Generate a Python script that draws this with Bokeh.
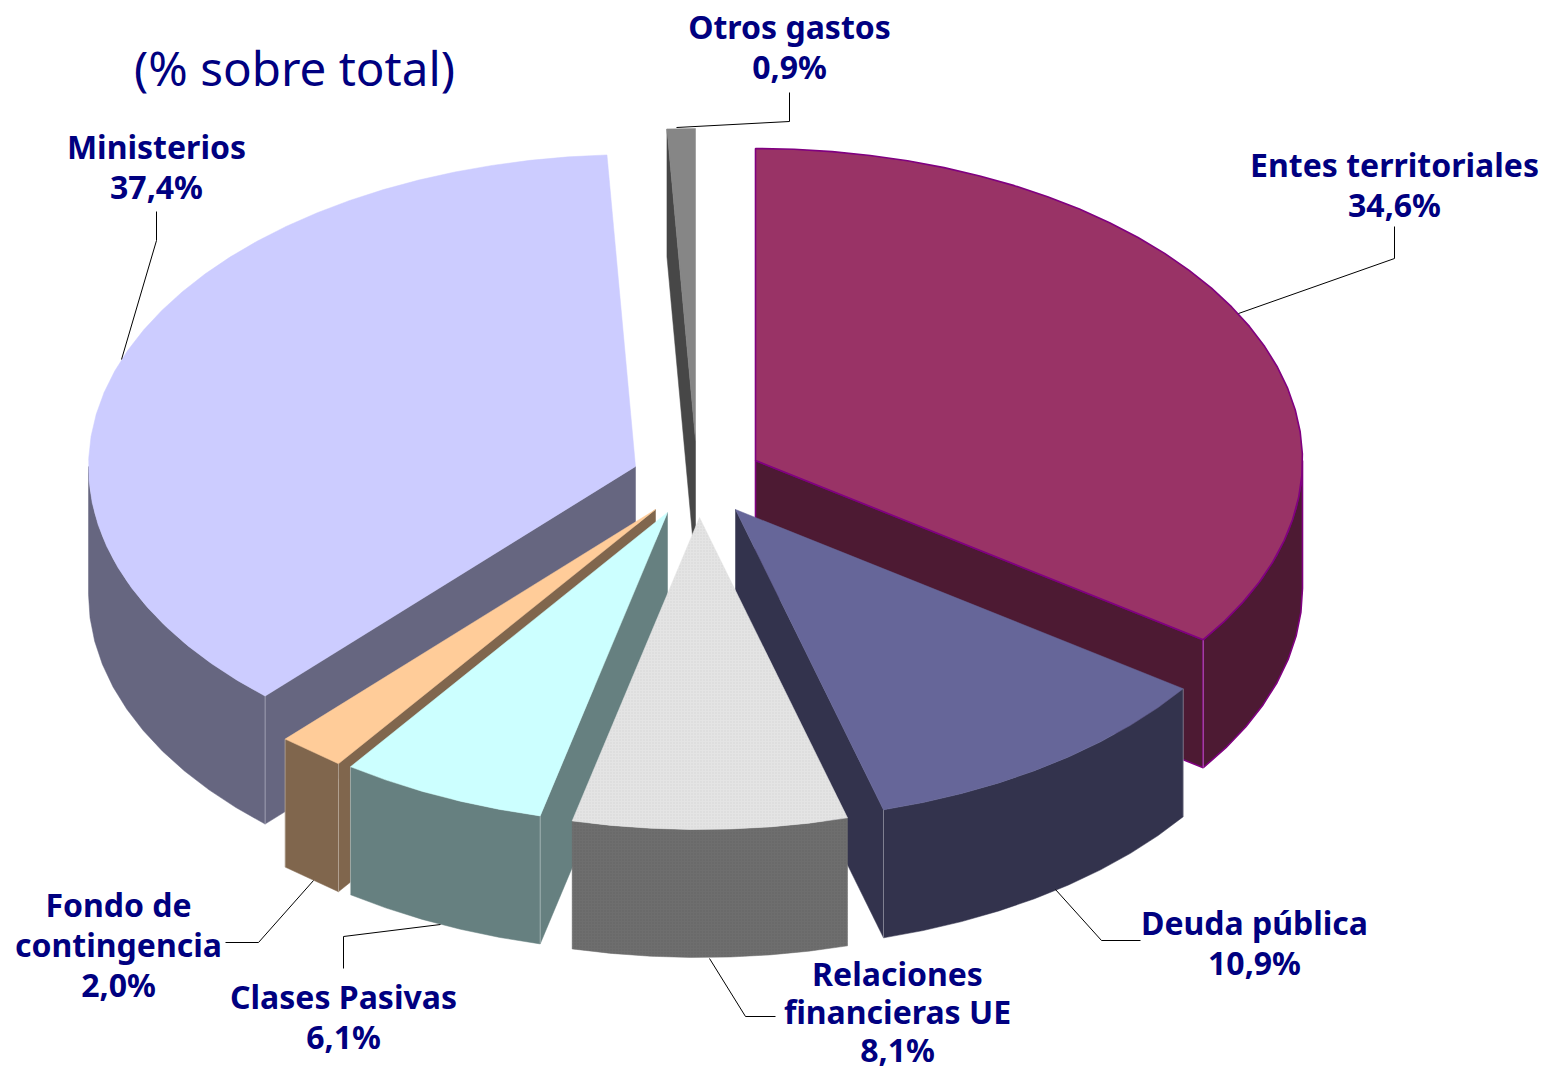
import math
from bokeh.plotting import figure
from bokeh.models import ColumnDataSource
from bokeh.core.properties import value
from bokeh.embed import file_html
from bokeh.resources import INLINE

# ---- data ----
categories = ["Entes territoriales", "Deuda pública", "Relaciones financieras UE",
              "Clases Pasivas", "Fondo de contingencia", "Ministerios", "Otros gastos"]
shares = [34.6, 10.9, 8.1, 6.1, 2.0, 37.4, 0.9]
label_lines = [["Entes territoriales"], ["Deuda pública"], ["Relaciones", "financieras UE"],
               ["Clases Pasivas"], ["Fondo de", "contingencia"], ["Ministerios"], ["Otros gastos"]]
title_text = "(% sobre total)"

# ---- layout / style ----
W, H = 1549, 1071
RX, RY, DEPTH = 547, 312, 128
ANGLE_NUDGE = [0, 0.5, 0.5, 0.5, 0.5, 0.5, 0.25, 0]
apex = [(755, 460), (735, 509), (699, 517), (667, 512), (655, 509), (635, 466), (695, 440)]
top_col = ["#993366", "#666699", "#e4e4e4", "#ccffff", "#ffcc99", "#ccccff", "#868686"]
side_col = ["#4d1a33", "#33334d", "#6e6e6e", "#668080", "#80664d", "#666680", "#474747"]
edge_col = ["#800080", None, None, None, None, None, None]
draw_order = [6, 0, 5, 4, 3, 1, 2]
label_xy = [(1394, 164), (1254, 922), (897, 973), (343, 996), (118, 904), (156, 146), (789, 26)]
label_step = [40, 40, 38, 40, 40, 40, 40]
leaders = [
    [(1394, 226), (1394, 258), (1238, 313)],
    [(1140, 940), (1101, 940), (1055, 889)],
    [(775, 1016), (745, 1016), (709, 958)],
    [(343, 968), (343, 936), (440, 924)],
    [(225, 942), (258, 942), (313, 880)],
    [(156, 211), (156, 240), (121, 359)],
    [(789, 92), (789, 121), (676, 127)],
]
FONT = "Noto Sans"
LABEL_SIZE = "32px"
NAVY = "#000080"

p = figure(width=W, height=H, x_range=(0, W), y_range=(H, 0),
           output_backend="svg", toolbar_location=None, x_axis_type=None, y_axis_type=None,
           min_border=0, outline_line_color=None, background_fill_color="white")
p.grid.visible = False


def pt(i, deg):
    a = math.radians(deg)
    return apex[i][0] + RX * math.sin(a), apex[i][1] - RY * math.cos(a)


def arc(i, d0, d1, step=4):
    n = max(1, int(abs(d1 - d0) / step))
    return [pt(i, d0 + (d1 - d0) * k / n) for k in range(n + 1)]


def patch(points, fill, edge=None, hatch=None):
    xs = [q[0] for q in points]
    ys = [q[1] for q in points]
    kw = dict(fill_color=fill, line_color=edge or fill, line_width=1.6 if edge else 0.5)
    if hatch:
        kw.update(hatch_pattern="dot", hatch_scale=3, hatch_color=hatch, hatch_alpha=0.5)
    p.patch(xs, ys, **kw)


# cumulative angle ranges; inner boundaries carry a small nudge, the 12 o'clock one stays put
total = sum(shares)
bounds, run = [0.0], 0.0
for s in shares:
    run += s
    bounds.append(run / total * 360)
bounds = [b + n for b, n in zip(bounds, ANGLE_NUDGE)]
starts, ends = bounds[:-1], bounds[1:]

for i in draw_order:
    t0, t1 = starts[i], ends[i]
    a = apex[i]
    hatch_top = "#c4c4c4" if i == 2 else None
    hatch_side = "#555555" if i == 2 else None
    # radial cut faces
    for t, vis in ((t1, math.sin(math.radians(t1)) > 0), (t0, math.sin(math.radians(t0)) < -1e-9)):
        if vis:
            q = pt(i, t)
            patch([a, q, (q[0], q[1] + DEPTH), (a[0], a[1] + DEPTH)], side_col[i], edge_col[i])
    # outer rim, front half only
    r0, r1 = max(t0, 90), min(t1, 270)
    if r1 > r0:
        top_arc = arc(i, r0, r1)
        bot_arc = [(x, y + DEPTH) for x, y in reversed(top_arc)]
        patch(top_arc + bot_arc, side_col[i], edge_col[i], hatch_side)
        # pale seam where the rim meets a cut face
        for t in (r0, r1):
            if t in (t0, t1) and i != 2:
                q = pt(i, t)
                p.line([q[0], q[0]], [q[1], q[1] + DEPTH], line_color="#ffffff", line_alpha=0.35, line_width=1)
    # top surface
    patch([a] + arc(i, t0, t1), top_col[i], edge_col[i], hatch_top)

# leader lines
for pts in leaders:
    p.line([q[0] for q in pts], [q[1] for q in pts], line_color="black", line_width=1)

# labels
for i, lines in enumerate(label_lines):
    pct = f"{shares[i]:.1f}%".replace(".", ",")
    rows = lines + [pct]
    x, y = label_xy[i]
    src = ColumnDataSource(dict(x=[x] * len(rows), y=[y + label_step[i] * k for k in range(len(rows))], t=rows))
    p.text("x", "y", text="t", source=src, text_font=value(FONT), text_font_style="bold",
           text_font_size=LABEL_SIZE, text_color=NAVY, text_align="center", text_baseline="middle")

p.text([294], [67], text=[title_text], text_font=value(FONT), text_font_size="47.5px",
       text_color=NAVY, text_align="center", text_baseline="middle")

open("out.html", "w").write(file_html(p, INLINE))
